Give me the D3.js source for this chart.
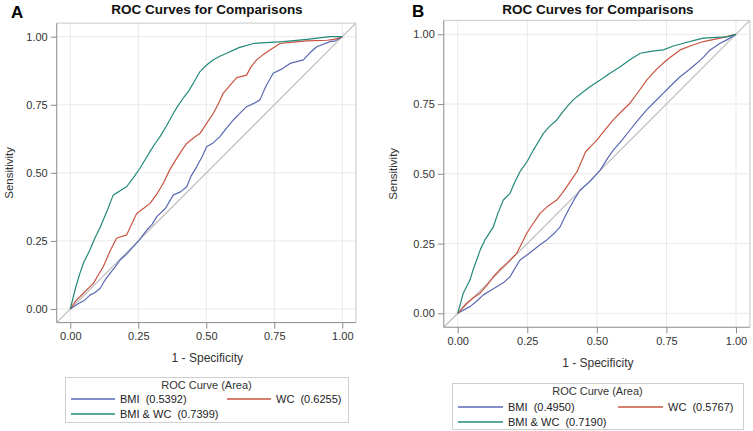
<!DOCTYPE html>
<html>
<head>
<meta charset="utf-8">
<script src="https://cdn.jsdelivr.net/npm/d3@7"></script>
<style>
  html, body { margin: 0; padding: 0; background: #fff; }
  svg { display: block; font-family: "Liberation Sans", Arial, sans-serif; }
</style>
</head>
<body>
<svg id="chart" width="753" height="431"></svg>
<script>
// ---------- DATA ----------
const panelLetters = ["A", "B"];
const chartTitle = "ROC Curves for Comparisons";
const xAxisTitle = "1 - Specificity";
const yAxisTitle = "Sensitivity";
const legendTitle = "ROC Curve (Area)";
const tickValues = [0, 0.25, 0.5, 0.75, 1];
const tickLabels = ["0.00", "0.25", "0.50", "0.75", "1.00"];
const seriesNames = ["BMI", "WC", "BMI & WC"];
const aucA = ["0.5392", "0.6255", "0.7399"];
const aucB = ["0.4950", "0.5767", "0.7190"];

// [1 - specificity, sensitivity]
const bmiA = [[0,0],[0.03,0.02],[0.05,0.03],[0.072,0.051],[0.09,0.06],[0.11,0.076],[0.13,0.11],[0.146,0.131],[0.165,0.155],[0.183,0.18],[0.205,0.2],[0.232,0.229],[0.255,0.255],[0.281,0.29],[0.3,0.31],[0.318,0.339],[0.35,0.37],[0.379,0.419],[0.405,0.43],[0.428,0.449],[0.445,0.49],[0.465,0.523],[0.485,0.56],[0.501,0.596],[0.525,0.61],[0.55,0.633],[0.575,0.665],[0.599,0.694],[0.625,0.72],[0.648,0.743],[0.675,0.755],[0.697,0.768],[0.72,0.82],[0.746,0.866],[0.775,0.88],[0.808,0.902],[0.857,0.915],[0.88,0.94],[0.906,0.963],[0.955,0.982],[0.975,0.985],[1,1]];
const wcA = [[0,0],[0.02,0.03],[0.048,0.058],[0.065,0.075],[0.085,0.094],[0.1,0.12],[0.121,0.155],[0.145,0.21],[0.17,0.26],[0.207,0.272],[0.225,0.31],[0.244,0.351],[0.27,0.37],[0.293,0.388],[0.32,0.425],[0.342,0.462],[0.365,0.51],[0.391,0.553],[0.415,0.59],[0.428,0.608],[0.455,0.63],[0.477,0.645],[0.5,0.68],[0.526,0.719],[0.545,0.755],[0.562,0.792],[0.59,0.825],[0.612,0.85],[0.648,0.859],[0.665,0.89],[0.685,0.915],[0.71,0.935],[0.734,0.951],[0.771,0.975],[0.82,0.98],[0.869,0.985],[0.943,0.987],[0.97,0.99],[1,1]];
const bothA = [[0,0],[0.02,0.08],[0.035,0.13],[0.048,0.168],[0.072,0.217],[0.09,0.26],[0.11,0.30],[0.135,0.36],[0.158,0.419],[0.18,0.432],[0.207,0.449],[0.23,0.48],[0.256,0.517],[0.275,0.548],[0.293,0.578],[0.31,0.605],[0.33,0.633],[0.355,0.675],[0.379,0.719],[0.395,0.745],[0.415,0.774],[0.435,0.8],[0.452,0.829],[0.477,0.872],[0.5,0.895],[0.526,0.915],[0.55,0.928],[0.575,0.939],[0.62,0.96],[0.673,0.975],[0.72,0.978],[0.783,0.982],[0.87,0.99],[0.955,1.0],[1,1]];

const bmiB = [[0,0],[0.044,0.024],[0.07,0.045],[0.092,0.066],[0.115,0.08],[0.14,0.095],[0.165,0.11],[0.188,0.131],[0.205,0.16],[0.224,0.191],[0.25,0.21],[0.272,0.227],[0.295,0.245],[0.32,0.263],[0.345,0.285],[0.368,0.31],[0.385,0.345],[0.404,0.382],[0.42,0.41],[0.44,0.442],[0.475,0.472],[0.512,0.513],[0.535,0.55],[0.559,0.585],[0.59,0.62],[0.619,0.657],[0.65,0.695],[0.679,0.729],[0.71,0.76],[0.739,0.789],[0.77,0.82],[0.799,0.848],[0.83,0.872],[0.859,0.896],[0.885,0.92],[0.907,0.944],[0.943,0.968],[0.967,0.98],[1,1]];
const wcB = [[0,0],[0.032,0.036],[0.055,0.055],[0.08,0.072],[0.105,0.1],[0.128,0.131],[0.15,0.155],[0.176,0.179],[0.212,0.215],[0.23,0.25],[0.248,0.287],[0.27,0.32],[0.296,0.358],[0.325,0.385],[0.356,0.406],[0.375,0.43],[0.392,0.454],[0.41,0.48],[0.43,0.51],[0.445,0.545],[0.46,0.58],[0.48,0.6],[0.5,0.621],[0.53,0.658],[0.559,0.693],[0.59,0.725],[0.619,0.753],[0.65,0.795],[0.679,0.836],[0.715,0.875],[0.751,0.908],[0.799,0.944],[0.84,0.96],[0.883,0.974],[0.943,0.986],[1,1]];
const bothB = [[0,0],[0.01,0.035],[0.02,0.072],[0.044,0.119],[0.055,0.155],[0.068,0.191],[0.082,0.23],[0.098,0.263],[0.128,0.31],[0.145,0.36],[0.164,0.406],[0.188,0.43],[0.205,0.47],[0.224,0.508],[0.25,0.545],[0.272,0.585],[0.29,0.615],[0.308,0.645],[0.33,0.67],[0.356,0.693],[0.375,0.718],[0.392,0.74],[0.415,0.765],[0.44,0.785],[0.475,0.812],[0.512,0.836],[0.55,0.862],[0.584,0.884],[0.62,0.91],[0.656,0.932],[0.7,0.94],[0.739,0.944],[0.775,0.958],[0.811,0.968],[0.85,0.978],[0.883,0.986],[0.93,0.989],[0.967,0.991],[1,1]];

const colors = ["#5A68B3", "#C8533F", "#22897A"];

// ---------- LAYOUT ----------
const panels = [
  { letter: panelLetters[0], auc: aucA, series: [bmiA, wcA, bothA],
    x0: 70.3, x1: 342.3, y0: 309, y1: 36.7,
    letterX: 11, letterY: 18, titleX: 207, titleY: 14,
    yTitleX: 9, xTitleY: 362,
    legend: { x: 65, y: 377, w: 283, h: 45, titleY: 389, row1: 403, row2: 418, c1: 71, c2: 227, lineLen: 44 } },
  { letter: panelLetters[1], auc: aucB, series: [bmiB, wcB, bothB],
    x0: 457.7, x1: 736, y0: 313.3, y1: 34.3,
    letterX: 412, letterY: 17, titleX: 598, titleY: 14,
    yTitleX: 393, xTitleY: 367,
    legend: { x: 452, y: 383, w: 291, h: 46, titleY: 395, row1: 411, row2: 426, c1: 458, c2: 618, lineLen: 45 } }
];

const svg = d3.select("#chart");

panels.forEach((p, pi) => {
  const g = svg.append("g");
  const ux = (p.x1 - p.x0), uy = (p.y0 - p.y1);
  const x = d3.scaleLinear().domain([-0.05, 1.05]).range([p.x0 - 0.05 * ux, p.x1 + 0.05 * ux]);
  const y = d3.scaleLinear().domain([-0.05, 1.05]).range([p.y0 + 0.05 * uy, p.y1 - 0.05 * uy]);
  const [L, R] = x.range();
  const [B, T] = y.range();

  // grid
  g.append("g").selectAll("line").data(tickValues).join("line")
    .attr("x1", d => x(d)).attr("x2", d => x(d)).attr("y1", T).attr("y2", B)
    .attr("stroke", "#e9e9e9").attr("stroke-width", 1);
  g.append("g").selectAll("line").data(tickValues).join("line")
    .attr("y1", d => y(d)).attr("y2", d => y(d)).attr("x1", L).attr("x2", R)
    .attr("stroke", "#e9e9e9").attr("stroke-width", 1);

  const clipId = "clip" + pi;
  svg.append("defs").append("clipPath").attr("id", clipId)
    .append("rect").attr("x", L).attr("y", T).attr("width", R - L).attr("height", B - T);

  const plot = g.append("g").attr("clip-path", `url(#${clipId})`);
  plot.append("line")
    .attr("x1", x(-0.05)).attr("y1", y(-0.05)).attr("x2", x(1.05)).attr("y2", y(1.05))
    .attr("stroke", "#bdbdbd").attr("stroke-width", 1.2);

  const line = d3.line().x(d => x(d[0])).y(d => y(d[1]));
  p.series.forEach((s, i) => {
    plot.append("path").datum(s).attr("d", line)
      .attr("fill", "none").attr("stroke", colors[i]).attr("stroke-width", 1.2)
      .attr("stroke-linejoin", "round");
  });

  g.append("line").attr("x1", L).attr("x2", R).attr("y1", T).attr("y2", T).attr("stroke", "#c8c8c8");
  g.append("line").attr("x1", R).attr("x2", R).attr("y1", T).attr("y2", B).attr("stroke", "#c8c8c8");

  const fmt = d => tickLabels[tickValues.indexOf(d)];
  const xAxis = d3.axisBottom(x).tickValues(tickValues).tickFormat(fmt).tickSize(6).tickSizeOuter(0).tickPadding(4);
  const yAxis = d3.axisLeft(y).tickValues(tickValues).tickFormat(fmt).tickSize(6).tickSizeOuter(0).tickPadding(3);
  const gx = g.append("g").attr("transform", `translate(0,${B})`).call(xAxis);
  const gy = g.append("g").attr("transform", `translate(${L},0)`).call(yAxis);
  [gx, gy].forEach(a => {
    a.select(".domain").attr("stroke", "#8c8c8c");
    a.selectAll(".tick line").attr("stroke", "#8c8c8c");
    a.selectAll(".tick text").attr("fill", "#333").style("font-size", "11px")
      .style("font-family", '"Liberation Sans", Arial, sans-serif');
  });
  gx.select(".domain").attr("d", `M${L},0H${R}`);
  gy.select(".domain").attr("d", `M0,${T}V${B}`);

  g.append("text").attr("x", p.letterX).attr("y", p.letterY).text(p.letter)
    .attr("font-weight", "bold").attr("font-size", 17).attr("fill", "#000");
  g.append("text").attr("x", p.titleX).attr("y", p.titleY).attr("text-anchor", "middle")
    .text(chartTitle).attr("font-weight", "bold").attr("font-size", 13.5).attr("fill", "#111");
  g.append("text").attr("x", (L + R) / 2 + 1).attr("y", p.xTitleY).attr("text-anchor", "middle")
    .text(xAxisTitle).attr("font-size", 12).attr("fill", "#333");
  g.append("text").attr("transform", `translate(${p.yTitleX + 4},${(T + B) / 2}) rotate(-90)`)
    .attr("text-anchor", "middle").text(yAxisTitle).attr("font-size", 11.5).attr("fill", "#333");

  const lg = p.legend;
  g.append("rect").attr("x", lg.x + 0.5).attr("y", lg.y + 0.5).attr("width", lg.w).attr("height", lg.h)
    .attr("fill", "#fff").attr("stroke", "#cfcfcf");
  g.append("text").attr("x", lg.x + lg.w / 2).attr("y", lg.titleY).attr("text-anchor", "middle")
    .text(legendTitle).attr("font-size", 11).attr("fill", "#333");
  const items = [
    { cx: lg.c1, cy: lg.row1 }, { cx: lg.c2, cy: lg.row1 }, { cx: lg.c1, cy: lg.row2 }
  ];
  items.forEach((it, i) => {
    g.append("line").attr("x1", it.cx).attr("x2", it.cx + lg.lineLen)
      .attr("y1", it.cy - 4).attr("y2", it.cy - 4)
      .attr("stroke", colors[i]).attr("stroke-width", 1.5);
    g.append("text").attr("x", it.cx + lg.lineLen + 5).attr("y", it.cy)
      .attr("font-size", 11).attr("fill", "#222")
      .attr("xml:space", "preserve").style("white-space", "pre")
      .text(`${seriesNames[i]}  (${p.auc[i]})`);
  });
});
</script>
</body>
</html>
